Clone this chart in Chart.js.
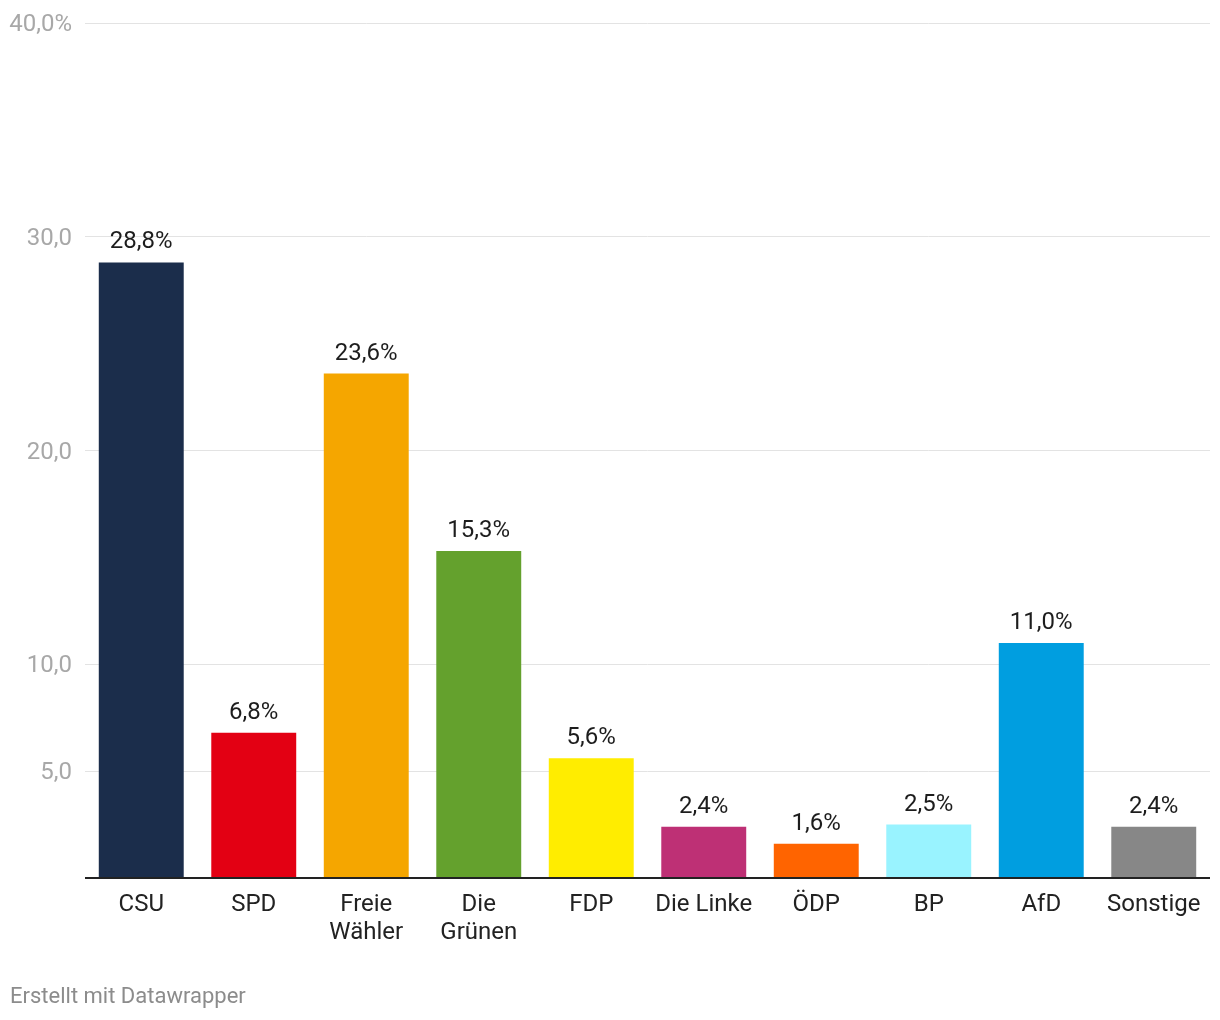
<!DOCTYPE html>
<html>
<head>
<meta charset="utf-8">
<script src="https://cdn.jsdelivr.net/npm/chart.js@4.4.0/dist/chart.umd.min.js"></script>
<style>
    html, body { margin: 0; padding: 0; background: #fff; }
    #wrap { position: relative; width: 1220px; height: 1020px; }
    #footer {
        position: absolute;
        left: 10px;
        top: 983px;
        font-family: Roboto, sans-serif;
        font-size: 22px;
        color: #8c8c8c;
    }
</style>
</head>
<body>
<div id="wrap">
    <canvas id="chart" width="1220" height="1020"></canvas>
    <div id="footer">Erstellt mit Datawrapper</div>
</div>
<script>
// Data
const parties = ['CSU', 'SPD', ['Freie', 'Wähler'], ['Die', 'Grünen'], 'FDP', 'Die Linke', 'ÖDP', 'BP', 'AfD', 'Sonstige'];
const shares = [28.8, 6.8, 23.6, 15.3, 5.6, 2.4, 1.6, 2.5, 11.0, 2.4];
const partyColors = ['#1b2d4b', '#e30013', '#f5a600', '#64a12d', '#ffed00', '#be3075', '#ff6400', '#99f3ff', '#009ee0', '#878787'];
const yTicks = [0, 5, 10, 20, 30, 40];
const yTickLabels = ['', '5,0', '10,0', '20,0', '30,0', '40,0%'];

const FONT = 'Roboto, sans-serif';

// value labels above the bars
const valueLabels = {
    id: 'valueLabels',
    afterDatasetsDraw(chart) {
        const ctx = chart.ctx;
        const meta = chart.getDatasetMeta(0);
        ctx.save();
        ctx.font = '24px ' + FONT;
        ctx.fillStyle = '#1d1d1d';
        ctx.textAlign = 'center';
        ctx.textBaseline = 'alphabetic';
        meta.data.forEach((bar, i) => {
            const txt = shares[i].toFixed(1).replace('.', ',') + '%';
            ctx.fillText(txt, bar.x, bar.y - 14);
        });
        ctx.restore();
    }
};

new Chart(document.getElementById('chart'), {
    type: 'bar',
    data: {
        labels: parties,
        datasets: [{
            data: shares,
            backgroundColor: partyColors,
            borderWidth: 0,
            barPercentage: 0.755,
            categoryPercentage: 1
        }]
    },
    options: {
        responsive: false,
        animation: false,
        layout: { padding: { top: 23, right: 10, left: 0, bottom: 0 } },
        plugins: {
            legend: { display: false },
            tooltip: { enabled: false }
        },
        scales: {
            x: {
                grid: { display: false },
                border: { display: false },
                ticks: {
                    color: '#222',
                    font: { family: FONT, size: 24, lineHeight: 1.17 },
                    padding: 5,
                    maxRotation: 0,
                    autoSkip: false
                },
                afterFit: scale => { scale.height = 142; }
            },
            y: {
                min: 0,
                max: 40,
                border: { display: false },
                grid: {
                    drawTicks: false,
                    color: ctx => ctx.tick && ctx.tick.value === 0 ? '#222' : '#e3e3e3',
                    lineWidth: ctx => ctx.tick && ctx.tick.value === 0 ? 2 : 1
                },
                ticks: {
                    color: '#a8a8a8',
                    font: { family: FONT, size: 24 },
                    padding: 13,
                    labelOffset: 2,
                    callback: (value) => {
                        const i = yTicks.indexOf(value);
                        return i >= 0 ? yTickLabels[i] : '';
                    }
                },
                afterBuildTicks: scale => {
                    scale.ticks = yTicks.map(v => ({ value: v }));
                },
                afterFit: scale => {
                    scale.width = 85;
                    scale.paddingTop = 0;
                    scale.paddingBottom = 0;
                }
            }
        }
    },
    plugins: [valueLabels]
});
</script>
</body>
</html>
